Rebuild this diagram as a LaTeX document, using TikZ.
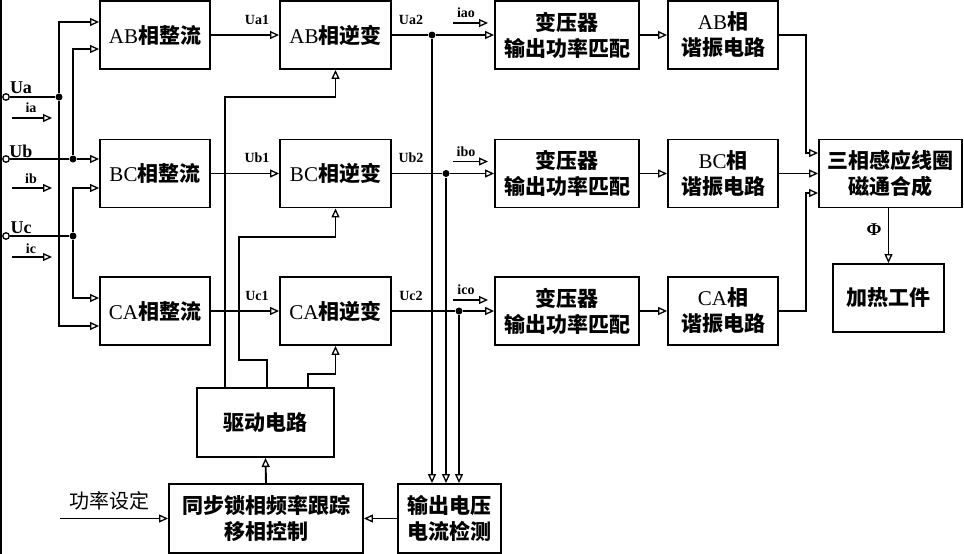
\documentclass[tikz,border=0pt]{standalone}
\usepackage{fontspec}
\setmainfont{Liberation Serif}
\newfontfamily\cjk{Noto Sans CJK SC}
\usetikzlibrary{arrows.meta}
\begin{document}
\begin{tikzpicture}[x=1pt,y=-1pt,line width=1.9pt,
  box/.style={draw,line width=1.9pt,inner sep=0pt,align=center,minimum height=68pt,
    font=\fontsize{21}{26}\selectfont\cjk\bfseries},
  arr/.style={-{Triangle[open,length=9pt,width=8pt,line width=1.3pt]}},
  dot/.style={circle,fill,inner sep=0pt,minimum size=7pt},
  term/.style={circle,draw,line width=1.3pt,fill=white,inner sep=0pt,minimum size=6.5pt},
  sig/.style={font=\fontsize{14}{14}\selectfont\bfseries},
  inp/.style={font=\fontsize{18}{18}\selectfont\bfseries}]
\useasboundingbox (0,0) rectangle (964,554);
\draw (1,0) -- (1,554);

% boxes
\node[box,minimum width=110pt] (r1) at (155,35) {{\rmfamily\mdseries AB}相整流};
\node[box,minimum width=110pt] (r2) at (155,173.5) {{\rmfamily\mdseries BC}相整流};
\node[box,minimum width=110pt] (r3) at (155,311) {{\rmfamily\mdseries CA}相整流};
\node[box,minimum width=111pt] (i1) at (335.5,35) {{\rmfamily\mdseries AB}相逆变};
\node[box,minimum width=111pt] (i2) at (335.5,173.5) {{\rmfamily\mdseries BC}相逆变};
\node[box,minimum width=111pt] (i3) at (335.5,311) {{\rmfamily\mdseries CA}相逆变};
\node[box,minimum width=144pt] (t1) at (567,35) {变压器\\输出功率匹配};
\node[box,minimum width=144pt] (t2) at (567,173.5) {变压器\\输出功率匹配};
\node[box,minimum width=144pt] (t3) at (567,311) {变压器\\输出功率匹配};
\node[box,minimum width=110pt] (s1) at (723,35) {{\rmfamily\mdseries AB}相\\谐振电路};
\node[box,minimum width=110pt] (s2) at (723,173.5) {{\rmfamily\mdseries BC}相\\谐振电路};
\node[box,minimum width=110pt] (s3) at (723,311) {{\rmfamily\mdseries CA}相\\谐振电路};
\node[box,minimum width=143pt] (m) at (890.5,173.5) {三相感应线圈\\磁通合成};
\node[box,minimum width=111pt] (h) at (888.5,298) {加热工件};
\node[box,minimum width=137pt,minimum height=69pt] (dr) at (265.5,422.5) {驱动电路};
\node[box,minimum width=194pt,minimum height=69pt] (sy) at (266,518.5) {同步锁相频率跟踪\\移相控制};
\node[box,minimum width=103pt,minimum height=69pt] (d) at (449.5,518.5) {输出电压\\电流检测};

% input terminals and junctions
\node[term] (ua) at (6,97) {};
\node[term] (ub) at (6,159) {};
\node[term] (uc) at (6,236) {};
\node[dot] (j1) at (59,97) {};
\node[dot] (j2) at (73,159) {};
\node[dot] (j3) at (73,236) {};
\node[inp] (lua) at (21,88) {Ua};
\node[inp] (lub) at (21,151) {Ub};
\node[inp] (luc) at (21,228) {Uc};

\draw (ua) -- (j1);
\draw[arr] (j1) |- (r1.west |- 0,22);
\draw[arr] (j1) |- (r3.west |- 0,326);
\draw[arr] (ub) -- (j2) -- (r2.west |- 0,159);
\draw[arr] (j2) |- (r1.west |- 0,49);
\draw (uc) -- (j3);
\draw[arr] (j3) |- (r2.west |- 0,188);
\draw[arr] (j3) |- (r3.west |- 0,298);

% input currents
\coordinate (ia0) at (12,118); \coordinate (ia1) at (52,118);
\coordinate (ib0) at (12,188); \coordinate (ib1) at (52,188);
\coordinate (ic0) at (12,257); \coordinate (ic1) at (52,257);
\draw[arr] (ia0) -- (ia1);
\draw[arr] (ib0) -- (ib1);
\draw[arr] (ic0) -- (ic1);
\node[sig] (lia) at (31,108) {ia};
\node[sig] (lib) at (31,179) {ib};
\node[sig] (lic) at (31,249) {ic};

% rectifier -> inverter
\draw[arr] (r1.east) -- (i1.west);
\draw[arr] (r2.east) -- (i2.west);
\draw[arr] (r3.east) -- (i3.west);
\node[sig] (lua1) at (257,20) {Ua1};
\node[sig] (lub1) at (257,158) {Ub1};
\node[sig] (luc1) at (257,296) {Uc1};

% inverter -> transformer
\node[dot] (k1) at (432,35) {};
\node[dot] (k2) at (446,173.5) {};
\node[dot] (k3) at (459,311) {};
\draw[arr] (i1.east) -- (k1) -- (t1.west);
\draw[arr] (i2.east) -- (k2) -- (t2.west);
\draw[arr] (i3.east) -- (k3) -- (t3.west);
\node[sig] (lua2) at (411,20) {Ua2};
\node[sig] (lub2) at (411,158) {Ub2};
\node[sig] (luc2) at (411,296) {Uc2};
\draw[arr] (k1) -- (k1 |- d.north);
\draw[arr] (k2) -- (k2 |- d.north);
\draw[arr] (k3) -- (k3 |- d.north);

% output currents
\coordinate (oa0) at (453,23); \coordinate (oa1) at (488,23);
\coordinate (ob0) at (453,161.5); \coordinate (ob1) at (488,161.5);
\coordinate (oc0) at (453,300); \coordinate (oc1) at (488,300);
\draw[arr] (oa0) -- (oa1);
\draw[arr] (ob0) -- (ob1);
\draw[arr] (oc0) -- (oc1);
\node[sig] (lia2) at (466,13) {iao};
\node[sig] (lib2) at (466,151.5) {ibo};
\node[sig] (lic2) at (466,290) {ico};

% transformer -> resonant
\draw[arr] (t1.east) -- (s1.west);
\draw[arr] (t2.east) -- (s2.west);
\draw[arr] (t3.east) -- (s3.west);

% resonant -> coil
\draw[arr] (s1.east) -| (806,153) -- (m.west |- 0,153);
\draw[arr] (s2.east) -- (m.west);
\draw[arr] (s3.east) -| (806,193) -- (m.west |- 0,193);

% coil -> workpiece
\draw[arr] (m.south -| h.north) -- (h.north);
\node[font=\fontsize{18}{18}\selectfont\bfseries] (phi) at (874,230) {Φ};

% drive
\draw[arr] (dr.north -| 225,0) -- (225,97) -| (i1.south);
\draw[arr] (dr.north -| 267,0) -- (267,360) -- (239,360) -- (239,237) -| (i2.south);
\draw[arr] (dr.north -| 308,0) -- (308,374) -| (i3.south);

% control
\draw[arr] (sy.north) -- (dr.south);
\draw[arr] (d.west) -- (sy.east);
\coordinate (ps) at (60,518.5);
\draw[arr] (ps) -- (sy.west);
\node[font=\fontsize{20}{20}\selectfont\cjk] (lps) at (109,501) {功率设定};
\end{tikzpicture}
\end{document}
